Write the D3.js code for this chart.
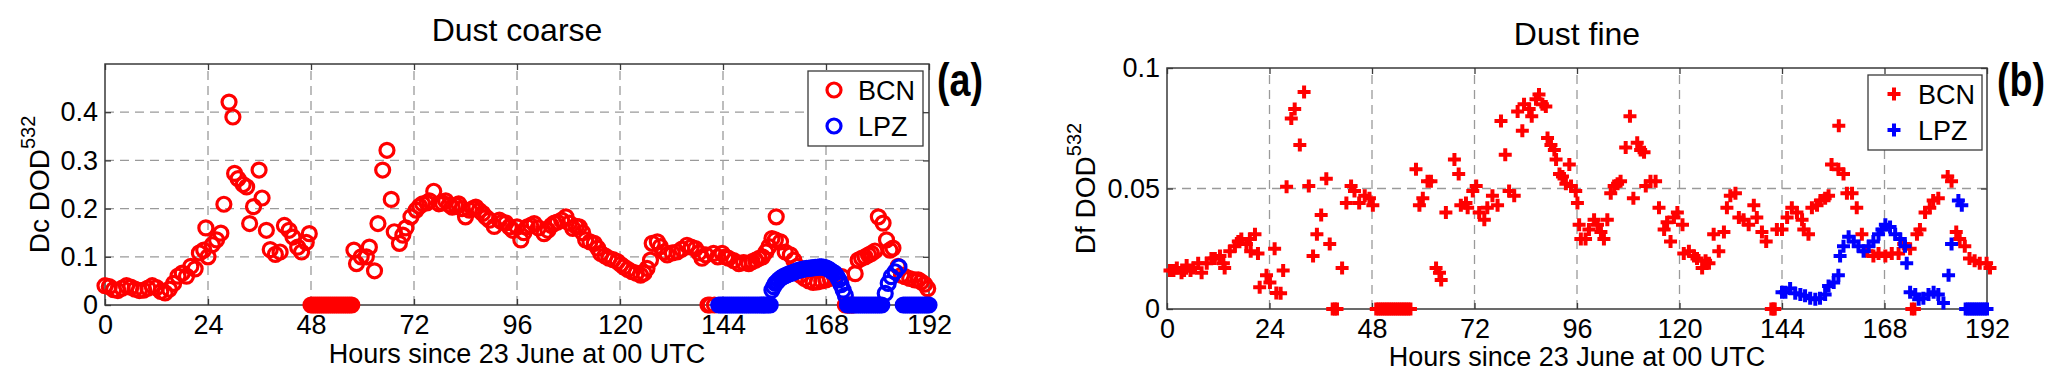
<!DOCTYPE html>
<html>
<head>
<meta charset="utf-8">
<script src="https://cdn.jsdelivr.net/npm/d3@7"></script>
<style>
  body { margin: 0; background: #fff; }
  svg { display: block; font-family: "Liberation Sans", Arial, sans-serif; }
</style>
</head>
<body>
<svg id="chart" width="2067" height="386"></svg>
<script>
// hours since 23 June 00 UTC
const xTicks = [0, 24, 48, 72, 96, 120, 144, 168, 192];
const coarseTicks = [0, 0.1, 0.2, 0.3, 0.4];
const fineTicks = [0, 0.05, 0.1];
const stations = ["BCN", "LPZ"];

// Dust coarse DOD 532, [hour, value]
const coarseBcn = [
	[0, .040], [1, .038], [2, .032], [3, .030], [4, .035], [5, .040], [6, .037], [7, .033], [8, .030],
	[9, .031], [10, .035], [11, .040], [12, .036], [13, .028], [14, .025], [15, .033], [16, .045],
	[17, .060], [18, .066], [19, .060], [20, .080], [21, .075], [22, .108], [23, .114], [23.5, .160],
	[24, .100], [25, .125], [26, .135], [27, .149], [27.7, .209], [28.9, .421], [29.8, .390],
	[30.2, .273], [31, .262], [32.2, .250], [33, .245], [33.7, .169], [34.6, .204], [35.9, .280],
	[36.6, .222], [37.6, .155], [38.5, .115], [39.7, .105], [40.8, .110], [41.8, .165], [42.9, .155],
	[43.8, .141], [44.9, .120], [45.8, .110], [46.9, .130], [47.6, .148],
	[48, 0], [48.5, 0], [49, 0], [49.5, 0], [50, 0], [50.5, 0], [51, 0], [51.5, 0], [52, 0],
	[52.5, 0], [53, 0], [53.5, 0], [54, 0], [54.5, 0], [55, 0], [55.5, 0], [56, 0], [56.5, 0],
	[57, 0], [57.5, 0],
	[58, .114], [58.6, .086], [59.7, .100], [60.9, .100], [61.6, .120], [62.8, .071], [63.6, .169],
	[64.7, .280], [65.7, .321], [66.7, .219], [67.4, .152], [68.6, .128], [69.4, .145], [70.1, .160],
	[71.3, .183], [72.5, .197], [73.3, .205], [74, .210], [75, .212], [75.6, .216], [76.6, .236],
	[77.8, .210], [78.6, .212], [79.4, .216], [80.2, .208], [80.9, .203], [81.7, .207], [82.4, .210],
	[83.2, .200], [84, .183], [84.9, .197], [85.7, .200], [86.4, .203], [87.2, .196], [88, .190],
	[88.8, .182], [89.6, .176], [90.7, .163], [91.9, .176], [92.6, .172], [93.4, .170], [94.2, .162],
	[95, .155], [96, .162], [96.9, .135], [97.6, .150], [98.4, .162], [99.2, .165], [100, .169],
	[101, .160], [102.3, .148], [103.2, .155], [104, .165], [104.7, .170], [105.4, .172],
	[106.4, .176], [107.4, .183], [108.2, .170], [109, .159], [109.8, .163], [110.5, .162],
	[111.3, .150], [112, .135], [113, .131], [114, .128], [114.8, .118], [115.5, .107], [116.5, .102],
	[117.4, .097], [118.4, .094], [119.4, .090], [120.2, .084], [120.9, .079], [121.8, .074],
	[122.8, .069], [123.8, .066], [124.8, .062], [125.6, .066], [126.3, .076], [127.1, .093],
	[127.5, .128], [128.7, .131], [129.4, .121], [130.2, .110], [131, .104], [132.2, .108],
	[133.3, .110], [134.4, .116], [135.6, .124], [136.6, .120], [137.6, .117], [138.4, .108],
	[139.1, .097], [140, .104], [141.8, .107], [140.5, 0], [141, 0], [142, 0], [142.8, .100], [143.8, .107],
	[144.6, .100], [145.3, .097], [146.5, .092], [147.7, .086], [148.8, .088], [150, .086],
	[150.8, .090], [151.6, .093], [152.4, .097], [153.2, .100], [154, .110], [154.7, .121],
	[155.4, .138], [156.4, .183], [156.2, .135], [157.4, .131], [158.5, .110], [159.7, .104],
	[160.5, .093], [161.3, .080], [162, .062], [163, .055], [164, .050], [165, .047], [166, .048],
	[167, .050], [168, .052], [169, .055], [170, .058], [171.7, .059], [172.5, 0], [173, 0], [173.4, 0],
	[174, 0], [174.3, 0], [174.8, .065], [175.5, .093], [176.3, .097], [177.1, .100], [177.9, .104],
	[178.6, .107], [179.4, .112], [180.2, .183], [181.3, .170], [182.1, .135], [182.9, .114],
	[183.6, .118], [184.8, .080], [185.6, .062], [186.4, .059], [187.5, .055], [188.7, .052],
	[189.5, .052], [190.2, .048], [191, .043], [191.7, .034]
];
const coarseLpz = [
	[143, 0], [143.5, 0], [144, 0], [144.5, 0], [145, 0], [145.5, 0], [146, 0], [146.5, 0], [147, 0],
	[147.5, 0], [148, 0], [148.5, 0], [149, 0], [149.5, 0], [150, 0], [150.5, 0], [151, 0], [151.5, 0],
	[152, 0], [152.5, 0], [153, 0], [153.5, 0], [154, 0], [154.5, 0], [155, 0],
	[155.4, .031], [155.8, .038], [156.2, .045], [156.6, .048], [157, .052], [157.5, .056], [158, .059],
	[158.5, .061], [159, .063], [159.5, .065], [160, .066], [160.5, .068], [161, .070], [161.5, .072],
	[162, .073], [162.5, .074], [163, .075], [163.5, .076], [164, .076], [164.5, .077], [165, .077],
	[165.5, .078], [166, .078], [166.5, .079], [167, .079], [167.5, .078], [168, .077], [168.5, .075],
	[169, .072], [169.5, .069], [170, .066], [170.5, .060], [171, .052], [171.5, .042], [172, .031],
	[172.5, .020], [173, 0], [173.5, 0], [174, 0], [174.5, 0], [175, 0], [175.5, 0], [176, 0],
	[176.5, 0], [177, 0], [177.5, 0], [178, 0], [178.5, 0], [179, 0], [179.5, 0], [180, 0], [180.5, 0],
	[181, 0], [181.8, .024], [182.5, .045], [183.2, .059], [184.1, .069], [185, .079],
	[186, 0], [186.5, 0], [187, 0], [187.5, 0], [188, 0], [188.5, 0], [189, 0], [189.5, 0], [190, 0],
	[190.5, 0], [191, 0], [191.5, 0], [192, 0]
];

// Dust fine DOD 532, [hour, value]
const fineBcn = [
	[0.7, .016], [1.5, .016], [2.3, .017], [3.4, .015], [4, .016], [4.6, .018], [5.5, .016],
	[6.2, .017], [7.3, .019], [8.1, .015], [9.3, .019], [10.4, .021], [11.2, .021], [12.4, .022],
	[13.2, .019], [13.5, .017], [14.7, .024], [15.9, .026], [16.7, .028], [17.4, .029], [18.6, .027],
	[19.4, .029], [19.6, .024], [20.6, .031], [21.3, .023], [21.7, .009], [23.3, .014], [24.1, .011],
	[25.2, .025], [25.6, .0066], [26.6, .0065], [27.2, .016], [28, .0507], [29.1, .079], [29.9, .083],
	[31.1, .068], [32.1, .090], [33.2, .051], [34.2, .022], [35.1, .031], [36.1, .039], [37.3, .054],
	[38.1, .027], [38.8, 0], [39.3, 0], [39.8, 0], [41, .017], [42, .044], [43.1, .051], [43.9, .049], [45, .044],
	[46.3, .047], [47.4, .046], [48.2, .043],
	[49, 0], [49.5, 0], [50, 0], [50.5, 0], [51, 0], [51.5, 0], [52, 0], [52.5, 0], [53, 0], [53.5, 0],
	[54, 0], [54.5, 0], [55, 0], [55.5, 0], [56, 0], [56.5, 0], [57, 0],
	[58.3, .058], [59.1, .043], [59.9, .046], [61, .053], [61.8, .053], [63, .017], [63.8, .015],
	[64.2, .012], [65.3, .040], [67.3, .062], [68.3, .056], [68.8, .043], [70, .044], [70.4, .042],
	[71.6, .049], [72.4, .051], [73.1, .040], [74.3, .037], [75, .042], [76.2, .047], [77.4, .043],
	[78.2, .078], [79.2, .064], [80.1, .049], [81.3, .047], [82.1, .082], [83.2, .074], [83.6, .085],
	[84.8, .083], [85.4, .080], [86.4, .087], [87.1, .089], [87.9, .085], [88.7, .084], [89.1, .071],
	[89.9, .068], [90.7, .066], [91.1, .062], [91.9, .056], [92.6, .055], [93.4, .052], [94.2, .060],
	[94.6, .051], [95.7, .049], [96.1, .044], [96.5, .035], [96.9, .029], [98, .029], [98.8, .033],
	[100, .037], [100.8, .035], [101.6, .032], [102.3, .029], [103.1, .037], [103.9, .048],
	[104.7, .051], [105.5, .052], [106.2, .053], [107.4, .067], [108.4, .080], [109.2, .046],
	[110.1, .069], [110.9, .066], [111.7, .065], [112.1, .051], [113.2, .053], [114.4, .053],
	[115.2, .042], [116.4, .033], [117.1, .036], [117.9, .028], [118.7, .038], [119.5, .040],
	[120.7, .035], [121, .023], [122.2, .024], [123.4, .022], [124.1, .021], [125.3, .017],
	[126.1, .020], [126.9, .019], [128, .031], [129.2, .024], [130.4, .032], [131.1, .042],
	[131.9, .047], [133.1, .048], [133.9, .038], [135, .037], [136.2, .035], [137.4, .043],
	[138.1, .038], [139.3, .032], [140.3, .028], [141.5, 0], [142, 0], [142.3, 0], [142.8, .033],
	[144, .033], [145.2, .038], [146.3, .042], [147.5, .040], [148.7, .037], [149.1, .033],
	[150.2, .031], [151, .042], [152.2, .043], [153, .045], [154.1, .046], [154.9, .047],
	[155.6, .060], [157.3, .076], [157.2, .058], [158.4, .056], [159.2, .048], [160.4, .048],
	[161.5, .042], [162.7, .031], [163.9, .024], [165.4, .022], [166.6, .023], [168.2, .022],
	[169.7, .023], [171.3, .023], [172.5, .027], [174, .025], [174.4, 0], [175, 0], [175.6, .031],
	[176.3, .033], [177.5, .040], [178.6, .042], [179.4, .045], [180.6, .046], [182.8, .055],
	[183.7, .053], [184.8, .032], [185.6, .029], [186.8, .026], [187.9, .021], [189.1, .020],
	[190.3, .019], [191.9, .019], [192.7, .017]
];
const fineLpz = [
	[144, .007], [144.8, .007], [145.9, .0085], [147.1, .0065], [148.3, .006], [149.4, .0055],
	[150.6, .0045], [151.8, .004], [152.9, .0045], [154.1, .006], [154.9, .0095], [156.1, .011],
	[157.2, .014], [157.6, .022], [158.4, .026], [159.6, .030], [160.8, .028], [161.9, .026],
	[163.1, .024], [164.3, .026], [165.4, .028], [166.6, .031], [167.4, .033], [168.2, .035],
	[169.3, .034], [170.5, .031], [171.7, .029], [172.8, .026], [173.2, .019], [174, .007],
	[175.2, .006], [176, .004], [177.1, .0045], [178.3, .006], [179.5, .007], [180.6, .006],
	[181.8, .0025], [183, .014], [183.7, .027], [185.3, .045], [186.1, .043],
	[187, 0], [187.5, 0], [188, 0], [188.5, 0], [189, 0], [189.5, 0], [190, 0], [190.5, 0], [191, 0],
	[191.5, 0], [192, 0]
];

const colors = { BCN: "#ff0000", LPZ: "#0000ff" };
const svg = d3.select("#chart");
const plus = "M-6.5,0H6.5M0,-6.5V6.5";

function drawPanel(cfg) {
	const x = d3.scaleLinear().domain([0, 192]).range(cfg.xr);
	const y = d3.scaleLinear().domain([0, cfg.yMax]).range(cfg.yr);
	const g = svg.append("g");
	const fmt = d3.format("~g");

	// grid
	g.append("g")
		.selectAll("line")
		.data(xTicks.slice(1, -1))
		.join("line")
		.attr("x1", (d) => x(d)).attr("x2", (d) => x(d))
		.attr("y1", cfg.yr[0]).attr("y2", cfg.yr[1])
		.attr("stroke", "#9a9a9a").attr("stroke-width", 1.3)
		.attr("stroke-dasharray", "9,6");
	g.append("g")
		.selectAll("line")
		.data(cfg.yTicks.filter((d) => d > 0 && d < cfg.yMax))
		.join("line")
		.attr("y1", (d) => y(d)).attr("y2", (d) => y(d))
		.attr("x1", cfg.xr[0]).attr("x2", cfg.xr[1])
		.attr("stroke", "#9a9a9a").attr("stroke-width", 1.3)
		.attr("stroke-dasharray", "9,6");

	// axes, ticks pointing inward
	const ax = g.append("g")
		.attr("transform", `translate(0,${cfg.yr[0]})`)
		.call(d3.axisBottom(x).tickValues(xTicks).tickSizeInner(-6).tickSizeOuter(0).tickPadding(10));
	ax.selectAll("text").attr("font-size", 27).attr("fill", "#000").attr("dy", "0.72em");
	const axT = g.append("g")
		.attr("transform", `translate(0,${cfg.yr[1]})`)
		.call(d3.axisTop(x).tickValues(xTicks).tickSizeInner(-6).tickSizeOuter(0).tickFormat(""));
	const ay = g.append("g")
		.attr("transform", `translate(${cfg.xr[0]},0)`)
		.call(d3.axisLeft(y).tickValues(cfg.yTicks).tickSizeInner(-6).tickSizeOuter(0).tickPadding(7).tickFormat(fmt));
	ay.selectAll("text").attr("font-size", 27).attr("fill", "#000");
	const ayR = g.append("g")
		.attr("transform", `translate(${cfg.xr[1]},0)`)
		.call(d3.axisRight(y).tickValues(cfg.yTicks).tickSizeInner(-6).tickSizeOuter(0).tickFormat(""));
	[ax, axT, ay, ayR].forEach((a) => {
		a.select(".domain").remove();
		a.selectAll("line").attr("stroke", "#3a3a3a").attr("stroke-width", 1.3);
	});
	g.append("rect")
		.attr("x", cfg.xr[0]).attr("y", cfg.yr[1])
		.attr("width", cfg.xr[1] - cfg.xr[0]).attr("height", cfg.yr[0] - cfg.yr[1])
		.attr("fill", "none").attr("stroke", "#3a3a3a").attr("stroke-width", 1.5);

	// points
	cfg.series.forEach((s) => {
		const sel = g.append("g").selectAll(cfg.marker === "o" ? "circle" : "path").data(s.data);
		if (cfg.marker === "o") {
			sel.join("circle")
				.attr("cx", (d) => x(d[0])).attr("cy", (d) => y(d[1]))
				.attr("r", 7).attr("fill", "none")
				.attr("stroke", colors[s.name]).attr("stroke-width", 3.2);
		} else {
			sel.join("path")
				.attr("transform", (d) => `translate(${x(d[0])},${y(d[1])})`)
				.attr("d", plus).attr("fill", "none")
				.attr("stroke", colors[s.name]).attr("stroke-width", 4);
		}
	});

	// titles and labels
	const cx = (cfg.xr[0] + cfg.xr[1]) / 2;
	g.append("text").attr("x", cx).attr("y", cfg.titleY)
		.attr("text-anchor", "middle").attr("font-size", 32).text(cfg.title);
	g.append("text").attr("x", cx).attr("y", cfg.xLabelY)
		.attr("text-anchor", "middle").attr("font-size", 27).text("Hours since 23 June at 00 UTC");
	const yl = g.append("text")
		.attr("transform", `translate(${cfg.yLabelX},${(cfg.yr[0] + cfg.yr[1]) / 2}) rotate(-90)`)
		.attr("text-anchor", "middle").attr("font-size", 28);
	yl.append("tspan").text(cfg.yLabel);
	yl.append("tspan").attr("dy", -14).attr("font-size", 20).text("532");

	// legend
	const lg = g.append("g").attr("transform", `translate(${cfg.legend[0]},${cfg.legend[1]})`);
	lg.append("rect").attr("width", cfg.legend[2]).attr("height", 75)
		.attr("fill", "#fff").attr("stroke", "#3a3a3a").attr("stroke-width", 1.3);
	stations.forEach((name, i) => {
		const row = lg.append("g").attr("transform", `translate(26,${19 + i * 36})`);
		if (cfg.marker === "o") {
			row.append("circle").attr("r", 7).attr("fill", "none")
				.attr("stroke", colors[name]).attr("stroke-width", 3.2);
		} else {
			row.append("path").attr("d", plus).attr("fill", "none")
				.attr("stroke", colors[name]).attr("stroke-width", 4);
		}
		row.append("text").attr("x", 24).attr("dy", "0.36em").attr("font-size", 27).text(name);
	});

	// condensed bold panel tag
	g.append("text")
		.attr("transform", `translate(${cfg.tag[0]},${cfg.tag[1]}) scale(0.8,1)`)
		.attr("font-weight", "bold").attr("font-size", 47).text(cfg.tagText);
}

drawPanel({
	xr: [105, 929], yr: [305, 64], yMax: 0.5, yTicks: coarseTicks,
	title: "Dust coarse", titleY: 41, xLabelY: 363, yLabel: "Dc DOD", yLabelX: 49,
	marker: "o",
	series: [{ name: "BCN", data: coarseBcn }, { name: "LPZ", data: coarseLpz }],
	legend: [808, 71, 115], tag: [937, 96], tagText: "(a)"
});
drawPanel({
	xr: [1167, 1987], yr: [309, 68], yMax: 0.1, yTicks: fineTicks,
	title: "Dust fine", titleY: 45, xLabelY: 366, yLabel: "Df DOD", yLabelX: 1095,
	marker: "+",
	series: [{ name: "BCN", data: fineBcn }, { name: "LPZ", data: fineLpz }],
	legend: [1868, 75, 114], tag: [1997, 96], tagText: "(b)"
});
</script>
</body>
</html>
